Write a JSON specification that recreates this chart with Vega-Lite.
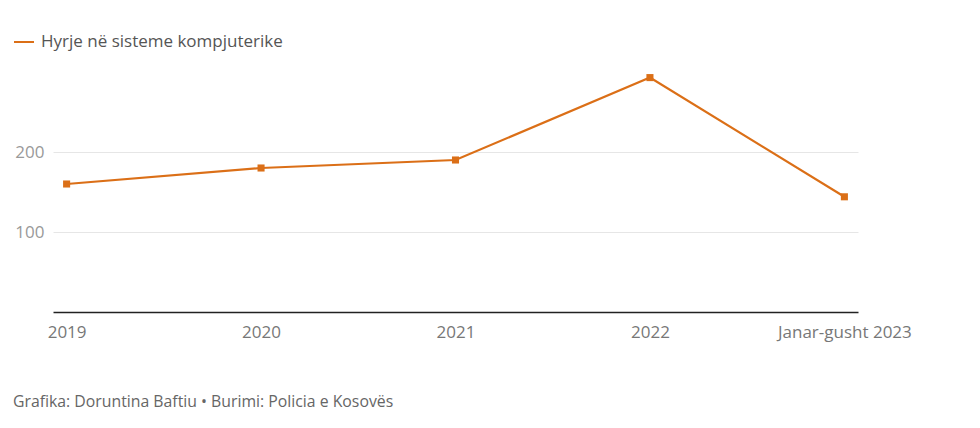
{
  "$schema": "https://vega.github.io/schema/vega-lite/v6.json",
  "autosize": {"type": "none"},
  "width": 805,
  "height": 240,
  "padding": {"left": 53, "top": 72, "right": 122, "bottom": 116},
  "background": "white",
  "config": {
    "view": {"stroke": null},
    "font": "Open Sans"
  },
  "title": {
    "text": "Grafika: Doruntina Baftiu • Burimi: Policia e Kosovës",
    "orient": "bottom",
    "anchor": "start",
    "frame": "group",
    "dx": -40,
    "offset": 55,
    "fontSize": 15.8,
    "fontWeight": "normal",
    "color": "#666666",
    "font": "Open Sans"
  },
  "data": {
    "values": [
      {"periudha": "2019", "seria": "Hyrje në sisteme kompjuterike", "vlera": 160},
      {"periudha": "2020", "seria": "Hyrje në sisteme kompjuterike", "vlera": 180},
      {"periudha": "2021", "seria": "Hyrje në sisteme kompjuterike", "vlera": 190},
      {"periudha": "2022", "seria": "Hyrje në sisteme kompjuterike", "vlera": 293},
      {"periudha": "Janar-gusht 2023", "seria": "Hyrje në sisteme kompjuterike", "vlera": 144}
    ]
  },
  "encoding": {
    "x": {
      "field": "periudha",
      "type": "ordinal",
      "sort": null,
      "scale": {"type": "point", "padding": 0.07},
      "axis": {
        "title": null,
        "labelAngle": 0,
        "labelFontSize": 17,
        "labelColor": "#777777",
        "labelPadding": 12,
        "labelLimit": 300,
        "ticks": false,
        "domainColor": "#222222",
        "domainWidth": 1.5,
        "grid": false
      }
    },
    "y": {
      "field": "vlera",
      "type": "quantitative",
      "scale": {"domain": [0, 300], "nice": false},
      "axis": {
        "title": null,
        "values": [100, 200],
        "domain": false,
        "ticks": false,
        "labelFontSize": 17,
        "labelColor": "#999999",
        "labelPadding": 9,
        "gridColor": "#e6e6e6",
        "gridWidth": 1
      }
    },
    "color": {
      "field": "seria",
      "type": "nominal",
      "scale": {"range": ["#db6f17"]},
      "legend": {
        "title": null,
        "orient": "none",
        "legendX": -40,
        "legendY": -41,
        "symbolType": "stroke",
        "symbolSize": 400,
        "symbolStrokeWidth": 2,
        "labelFontSize": 17,
        "labelLimit": 500,
        "labelColor": "#555555",
        "labelOffset": 6
      }
    }
  },
  "layer": [
    {"mark": {"type": "line", "strokeWidth": 2.2}},
    {"mark": {"type": "point", "shape": "square", "filled": true, "size": 50, "opacity": 1}}
  ]
}
